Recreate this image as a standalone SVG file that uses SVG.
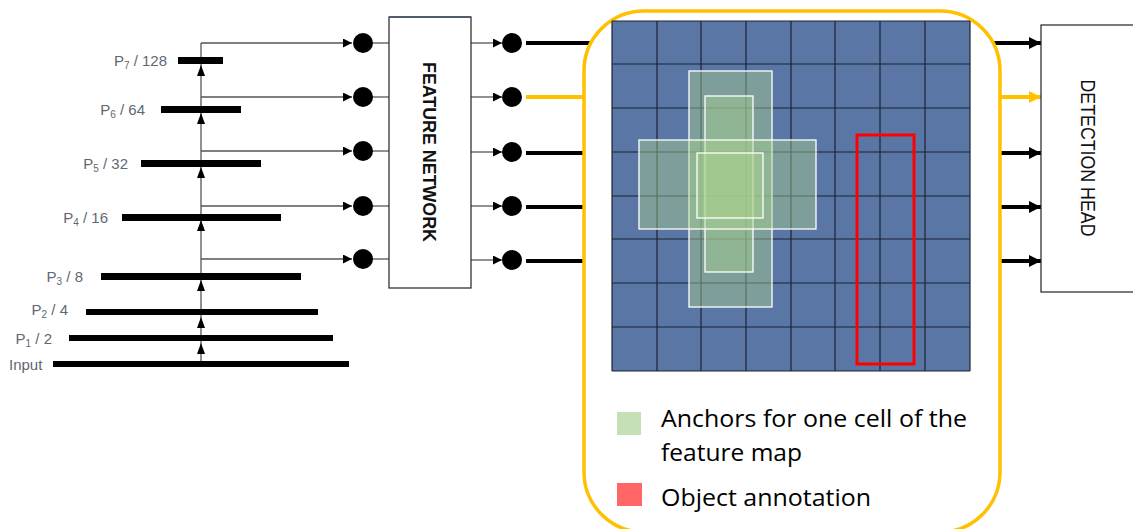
<svg xmlns="http://www.w3.org/2000/svg" width="1133" height="529" viewBox="0 0 1133 529">
<style>
.lbl{font-family:"Liberation Sans",Arial,sans-serif;font-size:15px;fill:#5f6773}
.sub{font-size:10px}
.bar{fill:#000}
.thin{stroke:#555;stroke-width:1.3;fill:none}
.dot{fill:#000}
.thick{stroke:#000;stroke-width:4;fill:none}
.yel{stroke:#FFC000;stroke-width:4;fill:none}
.grid{stroke:#1b2233;stroke-width:1.2}
.anc{fill:#A9D18E;fill-opacity:0.45;stroke:#fff;stroke-width:1.3}
.legend{font-family:"Open Sans","Liberation Sans",sans-serif;font-size:23px;fill:#000}
.box{fill:#fff;stroke:#222;stroke-width:1.2}
</style>
<defs>
<marker id="ah" viewBox="0 0 10 10" refX="10" refY="5" markerWidth="10" markerHeight="9" markerUnits="userSpaceOnUse" orient="auto"><path d="M0,0 L10,5 L0,10 z" fill="#000"/></marker>
<marker id="ahk" viewBox="0 0 10 10" refX="10" refY="5" markerWidth="12" markerHeight="12" markerUnits="userSpaceOnUse" orient="auto"><path d="M0,0 L10,5 L0,10 z" fill="#000"/></marker>
<marker id="ahy" viewBox="0 0 10 10" refX="10" refY="5" markerWidth="12" markerHeight="12" markerUnits="userSpaceOnUse" orient="auto"><path d="M0,0 L10,5 L0,10 z" fill="#FFC000"/></marker>
</defs>
<rect width="1133" height="529" fill="#fff"/>

<g id="connectors">
  <line class="thin" x1="201" y1="364" x2="201" y2="43"/>
  <g fill="#000">
    <path d="M201,65 L197,76 L205,76 z"/>
    <path d="M201,113 L197,124 L205,124 z"/>
    <path d="M201,167 L197,178 L205,178 z"/>
    <path d="M201,220 L197,231 L205,231 z"/>
    <path d="M201,280 L197,291 L205,291 z"/>
    <path d="M201,317 L197,328 L205,328 z"/>
    <path d="M201,343 L197,354 L205,354 z"/>
  </g>
  <line class="thin" x1="201" y1="43" x2="352" y2="43" marker-end="url(#ah)"/>
  <line class="thin" x1="201" y1="97" x2="352" y2="97" marker-end="url(#ah)"/>
  <line class="thin" x1="201" y1="151" x2="352" y2="151" marker-end="url(#ah)"/>
  <line class="thin" x1="201" y1="206" x2="352" y2="206" marker-end="url(#ah)"/>
  <line class="thin" x1="201" y1="259" x2="352" y2="259" marker-end="url(#ah)"/>
  <line class="thin" x1="363" y1="43" x2="389" y2="43"/>
  <line class="thin" x1="363" y1="97" x2="389" y2="97"/>
  <line class="thin" x1="363" y1="151" x2="389" y2="151"/>
  <line class="thin" x1="363" y1="206" x2="389" y2="206"/>
  <line class="thin" x1="363" y1="259" x2="389" y2="259"/>
  <line class="thin" x1="471" y1="43" x2="502" y2="43" marker-end="url(#ah)"/>
  <line class="thin" x1="471" y1="97" x2="502" y2="97" marker-end="url(#ah)"/>
  <line class="thin" x1="471" y1="152" x2="502" y2="152" marker-end="url(#ah)"/>
  <line class="thin" x1="471" y1="206" x2="502" y2="206" marker-end="url(#ah)"/>
  <line class="thin" x1="471" y1="260" x2="502" y2="260" marker-end="url(#ah)"/>
  <line class="thick" x1="526" y1="43" x2="592" y2="43"/>
  <line class="yel" x1="526" y1="97" x2="584" y2="97"/>
  <line class="thick" x1="526" y1="153" x2="584" y2="153"/>
  <line class="thick" x1="526" y1="207" x2="584" y2="207"/>
  <line class="thick" x1="526" y1="261" x2="584" y2="261"/>
  <line class="thick" x1="990" y1="43" x2="1041" y2="43" marker-end="url(#ahk)"/>
  <line stroke="#FFC000" stroke-width="4" x1="1000" y1="97" x2="1041" y2="97" marker-end="url(#ahy)"/>
  <line class="thick" x1="1000" y1="153" x2="1041" y2="153" marker-end="url(#ahk)"/>
  <line class="thick" x1="1000" y1="207" x2="1041" y2="207" marker-end="url(#ahk)"/>
  <line class="thick" x1="1000" y1="261" x2="1041" y2="261" marker-end="url(#ahk)"/>
</g>

<g id="pyramid">
  <rect class="bar" x="178" y="57" width="45" height="7"/>
  <rect class="bar" x="161" y="106" width="80" height="7"/>
  <rect class="bar" x="141" y="160" width="120" height="7"/>
  <rect class="bar" x="122" y="214" width="159" height="7"/>
  <rect class="bar" x="101" y="273" width="200" height="7"/>
  <rect class="bar" x="86" y="309" width="232" height="6"/>
  <rect class="bar" x="69" y="335" width="264" height="6"/>
  <rect class="bar" x="53" y="361" width="296" height="6"/>
  <text class="lbl" x="167" y="66" text-anchor="end">P<tspan class="sub" dy="3">7</tspan><tspan dy="-3"> / 128</tspan></text>
  <text class="lbl" x="145" y="115" text-anchor="end">P<tspan class="sub" dy="3">6</tspan><tspan dy="-3"> / 64</tspan></text>
  <text class="lbl" x="128" y="169" text-anchor="end">P<tspan class="sub" dy="3">5</tspan><tspan dy="-3"> / 32</tspan></text>
  <text class="lbl" x="108" y="223" text-anchor="end">P<tspan class="sub" dy="3">4</tspan><tspan dy="-3"> / 16</tspan></text>
  <text class="lbl" x="83" y="282" text-anchor="end">P<tspan class="sub" dy="3">3</tspan><tspan dy="-3"> / 8</tspan></text>
  <text class="lbl" x="68" y="315" text-anchor="end">P<tspan class="sub" dy="3">2</tspan><tspan dy="-3"> / 4</tspan></text>
  <text class="lbl" x="52" y="344" text-anchor="end">P<tspan class="sub" dy="3">1</tspan><tspan dy="-3"> / 2</tspan></text>
  <text class="lbl" x="9" y="370">Input</text>
</g>

<g id="circles-in">
  <circle class="dot" cx="363" cy="43" r="10"/>
  <circle class="dot" cx="363" cy="97" r="10"/>
  <circle class="dot" cx="363" cy="151" r="10"/>
  <circle class="dot" cx="363" cy="206" r="10"/>
  <circle class="dot" cx="363" cy="259" r="10"/>
</g>

<g id="feature-network">
  <rect class="box" x="389" y="17" width="82" height="271"/>
  <line x1="389" y1="17" x2="471" y2="17" stroke="#44546A" stroke-width="1.5"/>
  <text transform="translate(423,152) rotate(90)" text-anchor="middle" font-family="'Liberation Sans',Arial,sans-serif" font-weight="bold" font-size="19" textLength="180" lengthAdjust="spacingAndGlyphs" fill="#111">FEATURE NETWORK</text>
</g>

<g id="circles-out">
  <circle class="dot" cx="512" cy="43" r="10"/>
  <circle class="dot" cx="512" cy="97" r="10"/>
  <circle class="dot" cx="512" cy="152" r="10"/>
  <circle class="dot" cx="512" cy="206" r="10"/>
  <circle class="dot" cx="512" cy="260" r="10"/>
</g>

<g id="anchor-panel">
  <rect x="584" y="11" width="416" height="521" rx="60" ry="60" fill="#fff" stroke="#FFC000" stroke-width="3.5"/>
  <rect x="612" y="21" width="358" height="350" fill="#5A76A5"/>
  <g class="grid">
    <line x1="612" y1="21" x2="612" y2="371"/>
    <line x1="657" y1="21" x2="657" y2="371"/>
    <line x1="701" y1="21" x2="701" y2="371"/>
    <line x1="746" y1="21" x2="746" y2="371"/>
    <line x1="791" y1="21" x2="791" y2="371"/>
    <line x1="835" y1="21" x2="835" y2="371"/>
    <line x1="880" y1="21" x2="880" y2="371"/>
    <line x1="925" y1="21" x2="925" y2="371"/>
    <line x1="970" y1="21" x2="970" y2="371"/>
    <line x1="612" y1="21" x2="970" y2="21"/>
    <line x1="612" y1="64" x2="970" y2="64"/>
    <line x1="612" y1="108" x2="970" y2="108"/>
    <line x1="612" y1="152" x2="970" y2="152"/>
    <line x1="612" y1="196" x2="970" y2="196"/>
    <line x1="612" y1="239" x2="970" y2="239"/>
    <line x1="612" y1="283" x2="970" y2="283"/>
    <line x1="612" y1="327" x2="970" y2="327"/>
    <line x1="612" y1="371" x2="970" y2="371"/>
  </g>
  <rect class="anc" x="689" y="71" width="83" height="236"/>
  <rect class="anc" x="705" y="96" width="48" height="176"/>
  <rect class="anc" x="639" y="140" width="177" height="89"/>
  <rect class="anc" x="697" y="153" width="66" height="65"/>
  <rect x="857" y="135" width="57" height="229" fill="none" stroke="#FF0000" stroke-width="3"/>
  <rect x="617" y="412" width="24" height="23" fill="#C5E0B4"/>
  <text class="legend" x="661" y="427" textLength="306" lengthAdjust="spacingAndGlyphs">Anchors for one cell of the</text>
  <text class="legend" x="661" y="461" textLength="141" lengthAdjust="spacingAndGlyphs">feature map</text>
  <rect x="617" y="483" width="25" height="23" fill="#FF6666"/>
  <text class="legend" x="661" y="506" textLength="210" lengthAdjust="spacingAndGlyphs">Object annotation</text>
</g>

<g id="detection-head">
  <rect class="box" x="1041" y="25" width="100" height="267"/>
  <text transform="translate(1081,158) rotate(90)" text-anchor="middle" font-family="'Liberation Sans',Arial,sans-serif" font-size="20" textLength="157" lengthAdjust="spacingAndGlyphs" fill="#111">DETECTION HEAD</text>
</g>
</svg>
